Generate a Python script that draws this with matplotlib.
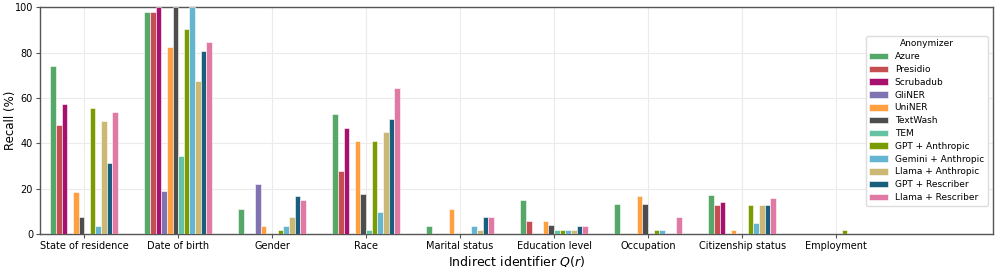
import matplotlib
matplotlib.use("Agg")
import matplotlib.pyplot as plt
import numpy as np

categories = ["State of residence", "Date of birth", "Gender", "Race", "Marital status",
              "Education level", "Occupation", "Citizenship status", "Employment"]
series = ["Azure", "Presidio", "Scrubadub", "GliNER", "UniNER", "TextWash", "TEM",
          "GPT + Anthropic", "Gemini + Anthropic", "Llama + Anthropic", "GPT + Rescriber",
          "Llama + Rescriber"]
colors = ["#55A868", "#C44E52", "#A8106F", "#8172B2", "#FFA040", "#4D4D4D", "#66C2A5",
          "#7A9C00", "#64B5D1", "#CCB872", "#1A5E7D", "#E07AA5"]

azure     = [74.0, 98.2, 11.2, 53.0, 3.7, 15.0, 13.1, 17.4, 0.0]
presidio  = [48.0, 98.2, 0.0, 27.6, 0.0, 5.6, 0.0, 12.7, 0.0]
scrubadub = [57.4, 100.0, 0.0, 47.0, 0.0, 0.0, 0.0, 14.3, 0.0]
gliner    = [0.0, 19.2, 22.1, 0.0, 0.0, 0.0, 0.0, 0.0, 0.0]
uniner    = [18.5, 82.7, 3.7, 41.2, 11.1, 5.6, 16.8, 1.6, 0.0]
textwash  = [7.4, 100.0, 0.0, 17.6, 0.0, 3.8, 13.1, 0.0, 0.0]
tem       = [0.0, 34.6, 0.0, 1.9, 0.0, 1.8, 0.0, 0.0, 0.0]
gpt_anth  = [55.6, 90.6, 1.8, 41.2, 0.0, 1.8, 1.8, 12.7, 1.8]
gem_anth  = [3.7, 100.0, 3.7, 9.7, 3.7, 1.8, 1.8, 4.7, 0.0]
llama_anth = [50.0, 67.4, 7.4, 45.1, 1.8, 1.8, 0.0, 12.7, 0.0]
gpt_resc  = [31.4, 80.8, 16.7, 50.9, 7.4, 3.7, 0.0, 12.7, 0.0]
llama_resc = [53.8, 84.8, 14.9, 64.6, 7.4, 3.7, 7.5, 15.9, 0.0]

values = [azure, presidio, scrubadub, gliner, uniner, textwash, tem,
          gpt_anth, gem_anth, llama_anth, gpt_resc, llama_resc]

fig = plt.figure(figsize=(9.97, 2.67), dpi=100)
ax = fig.add_axes([0.0401, 0.1236, 0.9559, 0.8484])

x = np.arange(len(categories))
bw = 0.06
n = len(series)
for i, (name, vals, c) in enumerate(zip(series, values, colors)):
    ax.bar(x + (i - (n - 1) / 2) * bw, vals, width=bw, color=c, label=name,
           edgecolor="white", linewidth=0.4, zorder=3)

ax.set_xlim(-0.47, 9.67)
ax.set_ylim(0, 100)
ax.set_xticks(x)
ax.set_xticklabels(categories, fontsize=7)
ax.set_yticks(np.arange(0, 101, 20))
ax.tick_params(axis="y", labelsize=7, length=3, width=0.8, color="#555555", pad=2)
ax.tick_params(axis="x", length=3, width=0.8, color="#555555", pad=2)
ax.grid(True, color="#ebebeb", linewidth=0.8, zorder=0)
ax.set_axisbelow(True)
for s in ax.spines.values():
    s.set_color("#555555")
    s.set_linewidth(1.0)
ax.set_ylabel("Recall (%)", fontsize=8.5)
ax.yaxis.set_label_coords(-0.024, 0.5)
ax.set_xlabel("Indirect identifier $Q(r)$", fontsize=9, labelpad=2)

leg = ax.legend(title="Anonymizer", loc="center right", fontsize=6.5, title_fontsize=6.5,
                frameon=True, fancybox=True, framealpha=1, edgecolor="#dddddd",
                handlelength=2.0, handleheight=0.75, labelspacing=0.42,
                handletextpad=0.8, borderaxespad=0.6)

fig.savefig("out.png", dpi=100)
